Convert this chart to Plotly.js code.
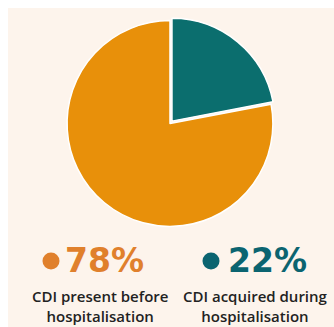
<!DOCTYPE html>
<html>
<head>
<meta charset="utf-8">
<script src="https://cdn.plot.ly/plotly-3.0.1.min.js"></script>
<style>html,body{margin:0;padding:0;background:#fff;}#chart{width:334px;height:327px;}</style>
</head>
<body>
<div id="chart"></div>
<script>
var categories = ["CDI acquired during hospitalisation", "CDI present before hospitalisation"];
var values = [22, 78];
var sliceColors = ["#0B6E6E", "#E8900A"];
var textColors = ["#0B6470", "#E0802C"];
var labelLines = [["CDI acquired during", "hospitalisation"], ["CDI present before", "hospitalisation"]];

var trace = {
  type: "pie",
  labels: categories,
  values: values,
  sort: false,
  direction: "clockwise",
  rotation: 0,
  pull: [0.03, 0],
  marker: {colors: sliceColors, line: {color: "#ffffff", width: 1.5}},
  textinfo: "none",
  hoverinfo: "none",
  showlegend: false,
  domain: {x: [0.1916, 0.8263], y: [0.2982, 0.9465]}
};

// legend blocks: left = 78%, right = 22%
var blocks = [{idx: 1, labelX: 99.5, dotX: 51, pctX: 104}, {idx: 0, labelX: 255.5, dotX: 211, pctX: 267}];
var annotations = [];
var shapes = [{type: "rect", xref: "paper", yref: "paper", x0: 8/334, x1: 1, y0: 0, y1: 1 - 8/327, fillcolor: "#FDF4EC", line: {width: 0}, layer: "below"}];
blocks.forEach(function (b) {
  var i = b.idx;
  annotations.push({
    xref: "paper", yref: "paper", x: b.pctX / 334, y: 1 - 260 / 327,
    xanchor: "center", yanchor: "middle", showarrow: false,
    text: values[i] + "%",
    font: {family: "DejaVu Sans", size: 33, color: textColors[i], weight: 700}
  });
  annotations.push({
    xref: "paper", yref: "paper", x: b.labelX / 334, y: 1 - 306 / 327,
    xanchor: "center", yanchor: "middle", showarrow: false, align: "center",
    text: labelLines[i].join("<br>"),
    font: {family: "Open Sans", size: 15, color: "#222222", weight: 600}
  });
  shapes.push({type: "circle", xref: "paper", yref: "paper",
    x0: (b.dotX - 8.5) / 334, x1: (b.dotX + 8.5) / 334,
    y0: 1 - 269.5 / 327, y1: 1 - 252.5 / 327,
    fillcolor: textColors[i], line: {width: 0}});
});

var layout = {
  width: 334, height: 327,
  margin: {l: 0, r: 0, t: 0, b: 0},
  paper_bgcolor: "#ffffff",
  plot_bgcolor: "rgba(0,0,0,0)",
  shapes: shapes,
  annotations: annotations
};
Plotly.newPlot("chart", [trace], layout, {displayModeBar: false, staticPlot: true});
</script>
</body>
</html>
